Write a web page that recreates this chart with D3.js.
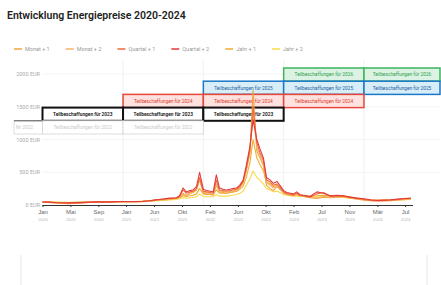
<!DOCTYPE html>
<html>
<head>
<meta charset="utf-8">
<script src="https://cdn.jsdelivr.net/npm/d3@7"></script>
<style>
  body { margin: 0; background: #fff; }
  svg { display: block; font-family: Roboto, "Liberation Sans", sans-serif; }
</style>
</head>
<body>
<svg id="chart" width="441" height="285"></svg>
<script>
// --- data ---
var seriesNames = ["Monat + 1", "Monat + 2", "Quartal + 1", "Quartal + 2", "Jahr + 1", "Jahr + 2"];
var seriesColors = ["#f3a23f", "#f6b26b", "#ee6a38", "#e23b3b", "#efae2e", "#f8da4c"];

// monthly 2020-01..2021-08, half-monthly 2021-09..2023-03, monthly 2023-04..2024-08
var dates = [];
d3.timeMonth.range(new Date(2020, 0, 1), new Date(2021, 8, 1)).forEach(function(d){ dates.push(d); });
d3.timeMonth.range(new Date(2021, 8, 1), new Date(2023, 3, 1)).forEach(function(d){
  dates.push(d); dates.push(new Date(d.getFullYear(), d.getMonth(), 15));
});
d3.timeMonth.range(new Date(2023, 3, 1), new Date(2024, 8, 1)).forEach(function(d){ dates.push(d); });

var monat1 = [42,38,30,22,20,28,32,38,42,40,38,45,52,50,48,52,58,70,80,90,
  100,120,160,140,170,190,230,380,180,170,160,150,300,200,190,180,190,200,210,260,340,520,800,1750,820,720,600,300,250,220,280,240,180,160,150,140,160,140,
  130,110,100,120,110,120,125,105,90,75,65,60,60,65,75,80,95];
var monat2 = [44,40,32,26,24,30,34,40,44,42,42,48,52,50,50,54,62,74,84,95,
  102,125,180,150,180,200,240,400,200,185,175,165,320,215,205,195,205,215,225,270,350,540,820,1400,880,760,620,340,300,260,300,255,190,170,160,150,170,145,
  135,115,110,130,120,130,130,110,95,80,68,62,65,72,82,90,100];
var quartal1 = [45,42,35,30,28,32,36,42,45,44,45,50,52,52,52,56,64,78,88,100,
  105,130,230,180,200,210,250,420,210,200,190,180,380,230,220,210,220,230,240,280,360,560,850,1500,950,800,680,380,350,300,320,270,200,175,165,155,180,150,
  140,120,170,190,130,140,130,115,100,85,70,65,70,75,85,95,100];
var quartal2 = [46,44,38,34,32,36,40,44,48,48,48,52,54,54,54,58,66,80,92,105,
  110,140,260,200,220,230,280,500,240,220,210,200,460,260,240,230,240,250,260,300,380,600,900,1300,1000,860,720,420,380,330,360,300,220,190,180,170,200,160,
  150,130,200,180,140,150,140,120,105,95,80,70,75,80,90,100,105];
var jahr1 = [45,44,40,38,38,40,42,44,46,46,46,50,52,52,54,56,60,68,75,85,
  95,110,140,130,140,150,170,250,170,160,160,160,230,180,180,180,190,200,210,240,290,420,650,1000,720,620,520,350,320,280,300,260,200,180,165,155,160,150,
  145,135,140,150,140,140,135,120,105,90,75,70,75,80,85,90,95];
var jahr2 = [47,46,44,42,42,43,45,46,48,48,48,50,52,52,54,55,58,64,70,78,
  85,95,110,105,110,115,125,170,130,125,125,125,160,135,135,135,140,150,160,180,210,300,400,520,420,380,320,250,230,200,210,190,160,150,140,135,135,130,
  130,120,120,125,120,120,115,105,95,85,75,72,75,78,80,82,85];
var seriesValues = [monat1, monat2, quartal1, quartal2, jahr1, jahr2];

var yTicks = [0, 500, 1000, 1500, 2000];
var tickMonths = ["Jan","Mai","Sep","Jan","Jun","Okt","Feb","Jun","Okt","Feb","Jul","Nov","Mär","Jul"];
var tickYears = ["2020","2020","2020","2021","2021","2021","2022","2022","2022","2023","2023","2023","2024","2024"];

// procurement rows (top to bottom): target year, covered years
var rowTargets = ["2026", "2025", "2024", "2023", "2022"];
var rowYears = [[2023, 2024], [2022, 2023, 2024], [2021, 2022, 2023], [2020, 2021, 2022], [2020, 2021]];
var rowStroke = ["#3db45d", "#1b78c8", "#e6463b", "#111111", "#d4d4d4"];
var rowFill = ["#dcf3e3", "#d7eef9", "#fde2df", "#ffffff", "#ffffff"];
var rowText = ["#2f9e4f", "#1d5c9e", "#e03a30", "#111111", "#c9c9c9"];

// --- chart ---
var svg = d3.select("#chart");

var x = d3.scaleTime()
  .domain([new Date(2020, 0, 1), new Date(2025, 0, 1)])
  .range([42.5, 444.5]);
var y = d3.scaleLinear().domain([0, 2000]).range([205, 74]);

svg.append("text")
  .attr("x", 7).attr("y", 19)
  .attr("font-size", 10.5).attr("font-weight", 600).attr("fill", "#222")
  .text("Entwicklung Energiepreise 2020-2024");

// legend
var lx = 14;
seriesNames.forEach(function(name, i){
  var g = svg.append("g").attr("transform", "translate(" + lx + ",49)");
  g.append("line").attr("x1", 0).attr("x2", 8).attr("y1", 0).attr("y2", 0)
    .attr("stroke", seriesColors[i]).attr("stroke-width", 1.5);
  var t = g.append("text").attr("x", 11).attr("y", 2)
    .attr("font-size", 5.5).attr("fill", "#999").text(name);
  lx += 11 + t.node().getComputedTextLength() + 16;
});

// grid
svg.append("g").selectAll("line.h").data(yTicks.slice(1)).enter().append("line")
  .attr("x1", 42.5).attr("x2", 440)
  .attr("y1", function(d){ return y(d); }).attr("y2", function(d){ return y(d); })
  .attr("stroke", "#f3f3f3");
svg.append("g").selectAll("line.v").data([2021, 2022, 2023, 2024]).enter().append("line")
  .attr("x1", function(d){ return x(new Date(d, 0, 1)); })
  .attr("x2", function(d){ return x(new Date(d, 0, 1)); })
  .attr("y1", 60).attr("y2", 205)
  .attr("stroke", "#f1f1f1");

// y labels
svg.append("g").selectAll("text").data(yTicks).enter().append("text")
  .attr("x", 40).attr("y", function(d){ return y(d) + 2; })
  .attr("text-anchor", "end").attr("font-size", 5.5).attr("fill", "#aaa")
  .text(function(d){ return d + " EUR"; });

// procurement boxes
var rowTop = d3.scaleBand().domain(d3.range(rowTargets.length)).range([68, 134]).padding(0);
rowYears.forEach(function(years, r){
  years.forEach(function(yr){
    var x0 = x(new Date(yr, 0, 1)), x1 = Math.min(x(new Date(yr + 1, 0, 1)), 440);
    var top = rowTop(r), h = rowTop.bandwidth();
    svg.append("rect")
      .attr("x", x0).attr("y", top).attr("width", x1 - x0).attr("height", h)
      .attr("fill", rowFill[r]).attr("stroke", rowStroke[r])
      .attr("stroke-width", r === 3 ? 2 : (r === 4 ? 0.8 : 1.5));
    svg.append("text")
      .attr("x", (x0 + x1) / 2).attr("y", top + h / 2 + 1.8)
      .attr("text-anchor", "middle").attr("font-size", 4.8)
      .attr("font-weight", r === 3 ? 600 : 400)
      .attr("fill", rowText[r])
      .text("Teilbeschaffungen für " + rowTargets[r]);
  });
});
// label cell of the faded row
svg.append("rect").attr("x", 14).attr("y", rowTop(4)).attr("width", 28.5).attr("height", rowTop.bandwidth())
  .attr("fill", "#fff").attr("stroke", "#d4d4d4").attr("stroke-width", 0.8);
svg.append("line").attr("x1", 14).attr("x2", 42.5).attr("y1", rowTop(4)).attr("y2", rowTop(4))
  .attr("stroke", "#555").attr("stroke-width", 1);
svg.append("text").attr("x", 16).attr("y", rowTop(4) + rowTop.bandwidth() / 2 + 1.8)
  .attr("font-size", 4.8).attr("fill", "#c9c9c9").text("Nr " + rowTargets[4]);

// lines
var line = d3.line()
  .x(function(d, i){ return x(dates[i]); })
  .y(function(d){ return y(d); });
var order = [4, 5, 0, 1, 2, 3];
order.forEach(function(i){
  svg.append("path")
    .attr("d", line(seriesValues[i]))
    .attr("fill", "none").attr("stroke", seriesColors[i])
    .attr("stroke-width", 1.1).attr("stroke-linejoin", "round");
});

// x axis
var tickDates = d3.range(tickMonths.length).map(function(i){
  return d3.timeDay.offset(new Date(2020, 0, 1), Math.round(i * 126.8));
});
var xAxis = svg.append("g").attr("transform", "translate(0,205)")
  .call(d3.axisBottom(x).tickValues(tickDates).tickSize(2).tickFormat(""));
xAxis.select(".domain").attr("d", "M42.5,0.5H413").attr("stroke", "#333");
xAxis.selectAll(".tick line").attr("stroke", "#333");
xAxis.selectAll(".tick").append("text")
  .attr("y", 9).attr("fill", "#666").attr("font-size", 6)
  .text(function(d, i){ return tickMonths[i]; });
xAxis.selectAll(".tick").append("text")
  .attr("y", 16).attr("fill", "#b5b5b5").attr("font-size", 4.3)
  .text(function(d, i){ return tickYears[i]; });

// faint card edges at the bottom
svg.append("g").selectAll("line").data([21, 427]).enter().append("line")
  .attr("x1", function(d){ return d; }).attr("x2", function(d){ return d; })
  .attr("y1", 255).attr("y2", 285).attr("stroke", "#e6e6e6");
</script>
</body>
</html>
